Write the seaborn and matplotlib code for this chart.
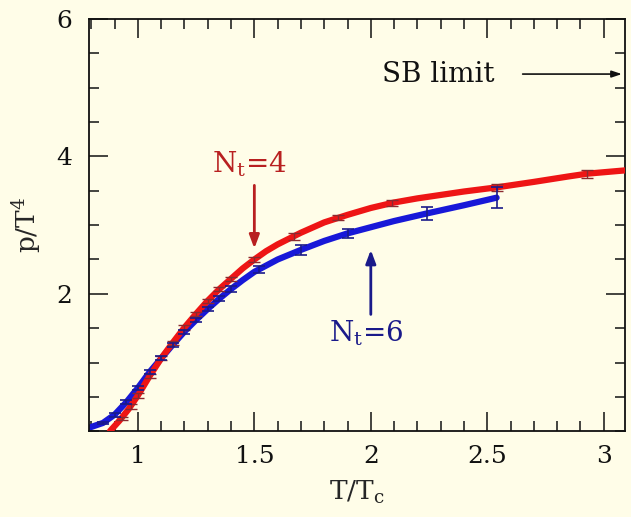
import matplotlib
matplotlib.use("Agg")
import matplotlib.pyplot as plt
import seaborn as sns
import pandas as pd
from matplotlib.ticker import MultipleLocator, FixedLocator

# Smooth curves of p/T^4 versus T/Tc for the two lattice extents
curve_t_nt4 = [0.88, 0.92, 0.96, 1.00, 1.05, 1.10, 1.15, 1.20, 1.25, 1.30, 1.35,
               1.40, 1.45, 1.50, 1.55, 1.60, 1.70, 1.80, 1.90, 2.00, 2.10, 2.20,
               2.30, 2.40, 2.54, 2.70, 2.85, 2.93, 3.10]
curve_p_nt4 = [0.00, 0.15, 0.32, 0.52, 0.80, 1.06, 1.29, 1.51, 1.71, 1.90, 2.07,
               2.22, 2.37, 2.50, 2.62, 2.72, 2.89, 3.04, 3.15, 3.25, 3.33, 3.39,
               3.44, 3.49, 3.55, 3.63, 3.71, 3.75, 3.80]

curve_t_nt6 = [0.79, 0.85, 0.90, 0.95, 1.00, 1.05, 1.10, 1.15, 1.20, 1.25, 1.30,
               1.35, 1.40, 1.45, 1.50, 1.60, 1.70, 1.80, 1.90, 2.00, 2.10, 2.24,
               2.40, 2.54]
curve_p_nt6 = [0.05, 0.12, 0.24, 0.42, 0.63, 0.86, 1.06, 1.26, 1.45, 1.62, 1.78,
               1.93, 2.07, 2.20, 2.32, 2.50, 2.64, 2.77, 2.88, 2.97, 3.06, 3.17,
               3.29, 3.40]

# Measured points with statistical errors
meas_t_nt4 = [0.93, 0.97, 1.00, 1.05, 1.10, 1.15, 1.20, 1.25, 1.30, 1.35, 1.40,
              1.50, 1.67, 1.86, 2.09, 2.54, 2.93]
meas_p_nt4 = [0.19, 0.36, 0.52, 0.80, 1.06, 1.29, 1.51, 1.71, 1.90, 2.07, 2.22,
              2.50, 2.84, 3.11, 3.32, 3.55, 3.75]
meas_e_nt4 = [0.02, 0.03, 0.03, 0.03, 0.03, 0.03, 0.03, 0.03, 0.03, 0.03, 0.03,
              0.04, 0.05, 0.04, 0.04, 0.05, 0.06]

meas_t_nt6 = [0.85, 0.90, 0.95, 1.00, 1.05, 1.10, 1.15, 1.20, 1.25, 1.30, 1.35,
              1.40, 1.52, 1.70, 1.90, 2.24, 2.54]
meas_p_nt6 = [0.12, 0.24, 0.42, 0.63, 0.86, 1.06, 1.26, 1.45, 1.62, 1.78, 1.93,
              2.07, 2.36, 2.64, 2.88, 3.17, 3.40]
meas_e_nt6 = [0.02, 0.03, 0.03, 0.03, 0.03, 0.03, 0.03, 0.03, 0.03, 0.03, 0.04,
              0.04, 0.05, 0.07, 0.07, 0.09, 0.15]

sb_limit = 5.2

x_ticks = [1, 1.5, 2, 2.5, 3]
x_tick_labels = ["1", "1.5", "2", "2.5", "3"]
y_ticks = [2, 4, 6]
y_tick_labels = ["2", "4", "6"]

bg = "#FFFDE8"
red = "#EE1515"
blue = "#1818D8"
dark_red = "#B82020"
navy = "#1A1A8A"

sns.set_style("ticks")
plt.rcParams["font.family"] = ["DejaVu Serif"]
plt.rcParams["mathtext.fontset"] = "dejavuserif"

fig = plt.figure(figsize=(6.31, 5.17), dpi=100, facecolor=bg)
ax = fig.add_axes([0.141, 0.166, 0.849, 0.797])
ax.set_facecolor(bg)

df4 = pd.DataFrame({"t": curve_t_nt4, "p": curve_p_nt4})
df6 = pd.DataFrame({"t": curve_t_nt6, "p": curve_p_nt6})

sns.lineplot(data=df4, x="t", y="p", ax=ax, color=red, lw=4.5, sort=False,
             estimator=None, solid_capstyle="round", solid_joinstyle="round",
             zorder=3)
sns.lineplot(data=df6, x="t", y="p", ax=ax, color=blue, lw=4.5, sort=False,
             estimator=None, solid_capstyle="round", solid_joinstyle="round",
             zorder=2)

ax.errorbar(meas_t_nt4, meas_p_nt4, yerr=meas_e_nt4, fmt="none", ecolor="#8A2A30",
            elinewidth=1.0, capsize=4, capthick=1.0, zorder=4)
ax.errorbar(meas_t_nt6, meas_p_nt6, yerr=meas_e_nt6, fmt="none", ecolor=navy,
            elinewidth=1.2, capsize=4, capthick=1.2, zorder=4)

ax.set_xlim(0.79, 3.09)
ax.set_ylim(0, 6)

ax.xaxis.set_major_locator(FixedLocator(x_ticks))
ax.set_xticklabels(x_tick_labels)
ax.xaxis.set_minor_locator(MultipleLocator(0.1))
ax.yaxis.set_major_locator(FixedLocator(y_ticks))
ax.set_yticklabels(y_tick_labels)
ax.yaxis.set_minor_locator(MultipleLocator(0.5))

ax.tick_params(which="both", direction="in", top=True, right=True,
               width=1.1, colors="#111111")
ax.tick_params(which="major", length=14, labelsize=18)
ax.tick_params(axis="x", which="major", pad=10)
ax.tick_params(axis="y", which="major", pad=12)
ax.tick_params(which="minor", length=7)
for s in ax.spines.values():
    s.set_linewidth(1.3)
    s.set_color("#111111")
    s.set_visible(True)

ax.set_xlabel(r"T/T$_\mathregular{c}$", fontsize=19, labelpad=8)
ax.set_ylabel(r"p/T$^\mathregular{4}$", fontsize=19, labelpad=10)

# Nt=4 label and arrow
ax.text(1.48, 3.89, r"N$_\mathregular{t}$=4", color=dark_red, fontsize=20,
        ha="center", va="center")
ax.annotate("", xy=(1.5, 2.62), xytext=(1.5, 3.62),
            arrowprops=dict(arrowstyle="-|>,head_length=0.8,head_width=0.3",
                            color=dark_red, lw=2))

# Nt=6 label and arrow
ax.text(1.98, 1.42, r"N$_\mathregular{t}$=6", color=navy, fontsize=20,
        ha="center", va="center")
ax.annotate("", xy=(2.0, 2.68), xytext=(2.0, 1.66),
            arrowprops=dict(arrowstyle="-|>,head_length=0.8,head_width=0.3",
                            color=navy, lw=2))

# Stefan-Boltzmann limit marker
ax.text(2.05, sb_limit, "SB limit", color="#111111", fontsize=20,
        ha="left", va="center")
ax.annotate("", xy=(3.09, sb_limit), xytext=(2.64, sb_limit),
            arrowprops=dict(arrowstyle="-|>,head_length=0.6,head_width=0.2",
                            color="#111111", lw=1.2),
            annotation_clip=False)

fig.savefig("out.png", dpi=100, facecolor=bg)
